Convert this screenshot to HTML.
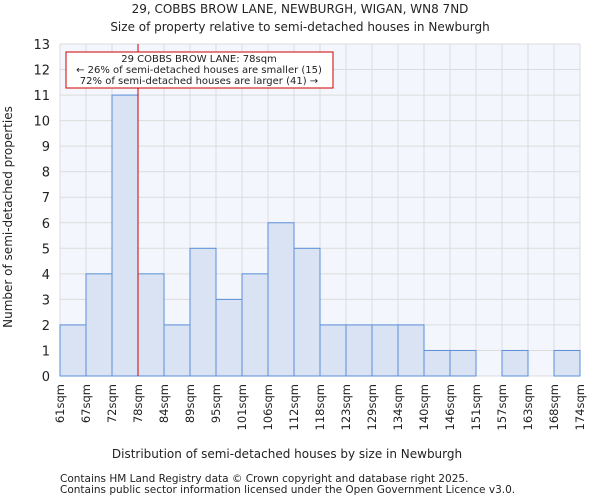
<!DOCTYPE html>
<html><head><meta charset="utf-8"><style>
body{margin:0;background:#fff;font-family:"DejaVu Sans","Liberation Sans",sans-serif;}
svg text{font-family:"DejaVu Sans","Liberation Sans",sans-serif;fill:#222;}
</style></head><body>
<svg id="chart" width="600" height="500">
<text x="300" y="13" text-anchor="middle" font-size="12">29, COBBS BROW LANE, NEWBURGH, WIGAN, WN8 7ND</text>
<text x="300" y="31" text-anchor="middle" font-size="12">Size of property relative to semi-detached houses in Newburgh</text>
<rect x="60" y="44" width="520" height="332" fill="#f3f6fc"/>
<g id="grid"></g><g id="bars"></g><g id="yticks"></g><g id="xticks"></g>
<line id="marker" y1="44" y2="376" stroke="#cc0000" stroke-width="1"/>
<rect x="66" y="52" width="267" height="36" fill="#fff" stroke="#cc0000"/>
<text x="199" y="62" text-anchor="middle" font-size="10">29 COBBS BROW LANE: 78sqm</text>
<text x="199" y="73" text-anchor="middle" font-size="10">← 26% of semi-detached houses are smaller (15)</text>
<text x="199" y="84" text-anchor="middle" font-size="10">72% of semi-detached houses are larger (41) →</text>
<text x="287" y="458" text-anchor="middle" font-size="12">Distribution of semi-detached houses by size in Newburgh</text>
<text transform="translate(12,217) rotate(-90)" text-anchor="middle" font-size="12">Number of semi-detached properties</text>
<text x="60" y="482" font-size="10.5" fill="#444">Contains HM Land Registry data © Crown copyright and database right 2025.</text>
<text x="60" y="493" font-size="10.5" fill="#444">Contains public sector information licensed under the Open Government Licence v3.0.</text>
</svg>
<script>
const tickLabels=["61sqm","67sqm","72sqm","78sqm","84sqm","89sqm","95sqm","101sqm","106sqm","112sqm","118sqm","123sqm","129sqm","134sqm","140sqm","146sqm","151sqm","157sqm","163sqm","168sqm","174sqm"];
const counts=[2,4,11,4,2,5,3,4,6,5,2,2,2,2,1,1,0,1,0,1];
const yTicks=[0,1,2,3,4,5,6,7,8,9,10,11,12,13];
const markerIndex=3;
const NS="http://www.w3.org/2000/svg";
const L=60,R=580,T=44,B=376,YMAX=13;
const bw=(R-L)/counts.length;
const xs=i=>L+i*bw;
const ys=v=>B-v/YMAX*(B-T);
function mk(tag,attrs,parent){const e=document.createElementNS(NS,tag);for(const k in attrs)e.setAttribute(k,attrs[k]);document.getElementById(parent).appendChild(e);return e;}
yTicks.forEach(v=>{
 const g=mk('line',{x1:L,x2:R,y1:ys(v),y2:ys(v),stroke:'#dcdcdc'},'grid');
 
 
 const t=mk('text',{x:L-10,y:ys(v)+5,'text-anchor':'end','font-size':13},'yticks');
 t.textContent=v;
 
 
});
tickLabels.forEach((s,i)=>{
 const g=mk('line',{x1:xs(i),x2:xs(i),y1:T,y2:B,stroke:'#dcdcdc'},'grid');
 
 
 const x=xs(i)+4;
 const t=mk('text',{x:x,y:384,transform:`rotate(-90 ${x} 384)`,'text-anchor':'end','font-size':11.5},'xticks');
 t.textContent=s;
 
 
});
counts.forEach((v,i)=>{
 if(v<=0)return;
 const r=mk('rect',{x:xs(i),y:ys(v),width:bw,height:B-ys(v),fill:'#dae3f3',stroke:'#5a8fd8','stroke-width':1},'bars');
 
 
});
const m=document.getElementById('marker');m.setAttribute('x1',xs(markerIndex));m.setAttribute('x2',xs(markerIndex));
</script>
</body></html>
